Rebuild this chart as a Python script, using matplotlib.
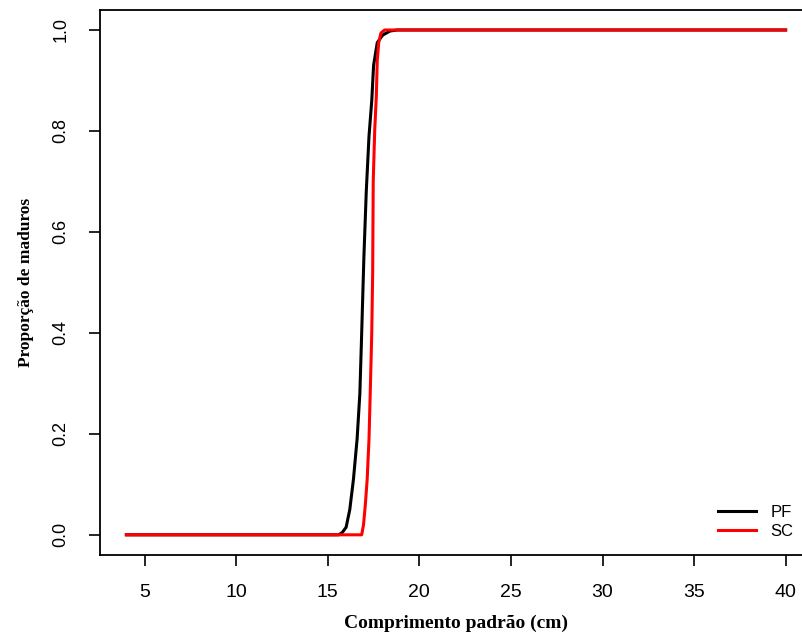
import matplotlib
matplotlib.use("Agg")
import matplotlib.pyplot as plt

# Data (length in cm, proportion mature)
pf_x = [4.0, 15.6, 15.8, 16.0, 16.2, 16.4, 16.6, 16.75, 16.85, 16.97, 17.1,
        17.25, 17.4, 17.5, 17.7, 18.0, 18.4, 18.8, 40.0]
pf_y = [0.0, 0.0, 0.005, 0.015, 0.05, 0.11, 0.19, 0.28, 0.40, 0.55, 0.68,
        0.79, 0.86, 0.93, 0.975, 0.99, 0.998, 1.0, 1.0]

sc_x = [4.0, 16.85, 16.95, 17.05, 17.15, 17.25, 17.33, 17.4, 17.45, 17.48,
        17.56, 17.65, 17.7, 17.78, 17.9, 18.1, 40.0]
sc_y = [0.0, 0.0, 0.02, 0.06, 0.11, 0.19, 0.30, 0.40, 0.52, 0.70,
        0.80, 0.87, 0.94, 0.975, 0.994, 1.0, 1.0]

series_labels = ["PF", "SC"]
series_colors = ["black", "red"]
x_ticks = [5, 10, 15, 20, 25, 30, 35, 40]
y_ticks = [0.0, 0.2, 0.4, 0.6, 0.8, 1.0]

W, H = 803, 635
fig = plt.figure(figsize=(W / 100, H / 100), dpi=100)
ax = fig.add_axes([100 / W, (H - 555) / H, 712 / W, (555 - 9.8) / H])

ax.plot(pf_x, pf_y, color=series_colors[0], lw=2.2, label=series_labels[0])
ax.plot(sc_x, sc_y, color=series_colors[1], lw=2.2, label=series_labels[1])

ax.set_xlim(2.56, 41.44)
ax.set_ylim(-0.04, 1.04)
ax.set_xticks(x_ticks)
ax.set_yticks(y_ticks)
ax.set_xticklabels([str(v) for v in x_ticks], family="Liberation Sans", fontsize=14)
ax.set_yticklabels([f"{v:.1f}" for v in y_ticks], family="Liberation Sans", fontsize=13,
                   rotation=90, va="center")
ax.tick_params(axis="x", length=8, width=1.2, pad=13)
ax.tick_params(axis="y", length=8, width=1.2, pad=14)
for s in ax.spines.values():
    s.set_linewidth(1.3)
ax.spines["right"].set_visible(False)

ax.set_xlabel("Comprimento padrão (cm)", family="Liberation Serif", fontweight="bold",
              fontsize=14, labelpad=10)
ax.set_ylabel("Proporção de maduros", family="Liberation Serif", fontweight="bold",
              fontsize=12.5, labelpad=13)

leg = ax.legend(loc="center left", bbox_to_anchor=(718 / W, 1 - 522 / H),
                bbox_transform=fig.transFigure, frameon=False, borderpad=0,
                borderaxespad=0, handlelength=2.3, handletextpad=0.85,
                labelspacing=0.2, prop={"family": "Liberation Sans", "size": 12})

fig.savefig("out.png", dpi=100)
